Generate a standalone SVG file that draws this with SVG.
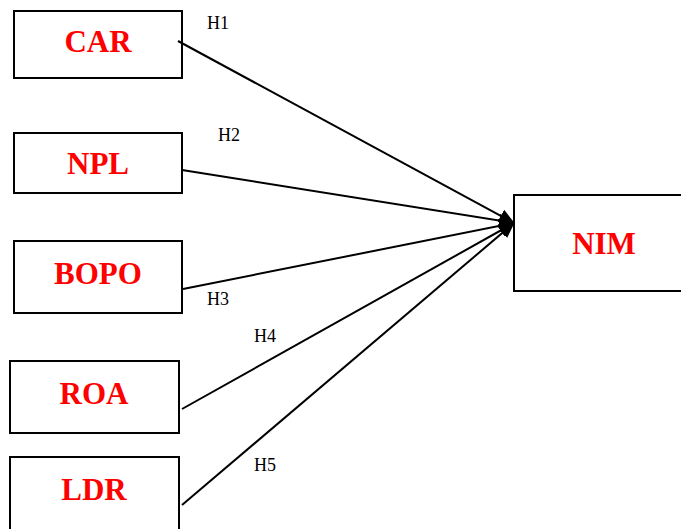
<svg xmlns="http://www.w3.org/2000/svg" width="681" height="529" viewBox="0 0 681 529">
<style>
.box{fill:#fff;stroke:#000;stroke-width:2}
.lbl{font-family:"Liberation Serif",serif;font-weight:bold;font-size:31px;fill:#ff0000;text-anchor:middle}
.h{font-family:"Liberation Serif",serif;font-size:18px;fill:#000}
.c{stroke:#000;stroke-width:2;fill:none;marker-end:url(#ah)}
</style>
<defs>
<marker id="ah" markerWidth="16" markerHeight="14" refX="15" refY="7" orient="auto" markerUnits="userSpaceOnUse" viewBox="0 0 16 14">
<path d="M0,0 L16,7 L0,14 z" fill="#000"/>
</marker>
</defs>
<rect width="681" height="529" fill="#fff"/>
<g id="CAR"><rect class="box" x="14" y="11" width="168" height="67"/><text class="lbl" x="98" y="52">CAR</text></g>
<g id="NPL"><rect class="box" x="14" y="133" width="168" height="60"/><text class="lbl" x="98" y="174">NPL</text></g>
<g id="BOPO"><rect class="box" x="14" y="241" width="168" height="72"/><text class="lbl" x="98" y="284">BOPO</text></g>
<g id="ROA"><rect class="box" x="10" y="361" width="169" height="72"/><text class="lbl" x="94" y="404">ROA</text></g>
<g id="LDR"><rect class="box" x="10" y="457" width="169" height="74"/><text class="lbl" x="94" y="500">LDR</text></g>
<g id="NIM"><rect class="box" x="514" y="195" width="170" height="96"/><text class="lbl" x="604" y="254">NIM</text></g>
<g id="connectors">
<line class="c" x1="178" y1="41" x2="514" y2="223"/>
<line class="c" x1="182" y1="170" x2="514" y2="223"/>
<line class="c" x1="183" y1="289" x2="514" y2="223"/>
<line class="c" x1="182" y1="409" x2="514" y2="223"/>
<line class="c" x1="182" y1="505" x2="514" y2="223"/>
<text class="h" x="207" y="29">H1</text>
<text class="h" x="218" y="141">H2</text>
<text class="h" x="207" y="305">H3</text>
<text class="h" x="254" y="342">H4</text>
<text class="h" x="254" y="471">H5</text>
</g>
</svg>
